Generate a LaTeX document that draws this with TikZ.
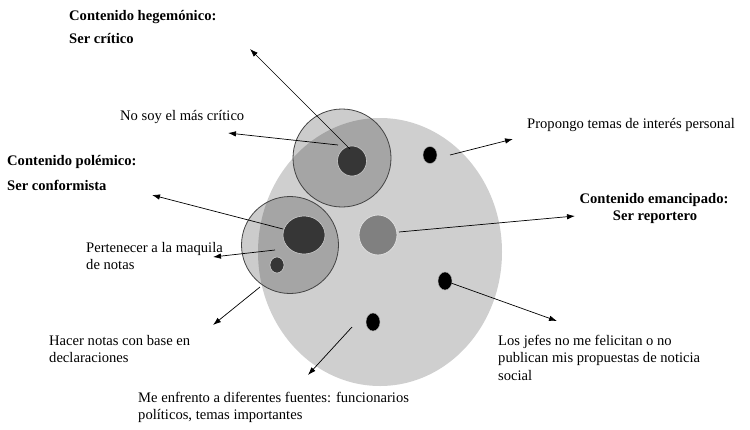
\documentclass[tikz,border=0pt]{standalone}
\usepackage{fontspec}
\setmainfont{Liberation Serif}
\usetikzlibrary{arrows.meta,shapes.geometric}
\definecolor{bigfill}{HTML}{CFCFCF}
\definecolor{darkfill}{HTML}{363636}
\definecolor{midfill}{HTML}{808080}
\definecolor{rimcol}{HTML}{444444}
\begin{document}
\begin{tikzpicture}[x=1pt,y=-1pt,
  lbl/.style={anchor=base west,inner sep=0pt,font=\fontsize{14.6}{17.5}\selectfont},
  blbl/.style={anchor=base west,inner sep=0pt,font=\fontsize{14.6}{17.5}\selectfont\bfseries},
  bclbl/.style={anchor=base,inner sep=0pt,font=\fontsize{14.6}{17.5}\selectfont\bfseries},
  arr/.style={draw=black,line width=0.7pt,-{Latex[length=8pt,width=5.5pt]}},
  zone/.style={circle,inner sep=0pt,draw=rimcol,line width=0.8pt,fill=black,fill opacity=0.2,draw opacity=1},
  darkdot/.style={ellipse,inner sep=0pt,fill=darkfill,draw=gray!40,line width=0.6pt},
  blackdot/.style={ellipse,inner sep=0pt,fill=black,draw=gray!60,line width=0.4pt}]
\useasboundingbox (0,0) rectangle (750,429);
% big field
\node (big) [ellipse,inner sep=0pt,fill=bigfill,minimum width=244pt,minimum height=268pt] at (380,252) {};
% hegemonic zone
\node (heg) [zone,minimum size=98pt] at (342,158) {};
\node (hegdot) [darkdot,minimum width=29pt,minimum height=30pt] at (352,161) {};
% polemic zone
\node (pol) [zone,minimum size=97pt] at (290,245) {};
\node (poldot) [darkdot,minimum width=42pt,minimum height=38pt] at (304,235) {};
\node (polsmall) [darkdot,minimum width=14pt,minimum height=16pt] at (277,265) {};
% emancipated
\node (eman) [ellipse,inner sep=0pt,fill=midfill,draw=gray!25,line width=0.8pt,minimum width=38pt,minimum height=40pt] at (378,235) {};
% black dots
\node (dotA) [blackdot,minimum width=14pt,minimum height=17pt] at (430,155) {};
\node (dotB) [blackdot,minimum width=14pt,minimum height=18pt] at (445,281) {};
\node (dotC) [blackdot,minimum width=14pt,minimum height=18pt] at (373,322) {};

% labels
\node (t1a) [blbl] at (69,20) {Contenido hegemónico:};
\node (t1b) [blbl] at (69,43) {Ser crítico};
\node (t2) [lbl] at (120,120) {No soy el más crítico};
\node (t3a) [blbl] at (7,165) {Contenido polémico:};
\node (t3b) [blbl] at (7,190) {Ser conformista};
\node (t4a) [lbl] at (86,252) {Pertenecer a la maquila};
\node (t4b) [lbl] at (86,269.5) {de notas};
\node (t5a) [lbl] at (49,345) {Hacer notas con base en};
\node (t5b) [lbl] at (49,362.5) {declaraciones};
\node (t6a) [lbl] at (138,402) {Me enfrento a diferentes fuentes: funcionarios};
\node (t6b) [lbl] at (138,419.5) {políticos, temas importantes};
\node (t7) [lbl] at (527,128) {Propongo temas de interés personal};
\node (t8a) [bclbl] at (654,203) {Contenido emancipado:};
\node (t8b) [bclbl] at (655,220.5) {Ser reportero};
\node (t9a) [lbl] at (498,345) {Los jefes no me felicitan o no};
\node (t9b) [lbl] at (498,362.5) {publican mis propuestas de noticia};
\node (t9c) [lbl] at (498,380) {social};

% connector ends
\coordinate (s1) at (350,149); \coordinate (e1) at (250,49);
\coordinate (s2) at (338,145); \coordinate (e2) at (228,133);
\coordinate (s3) at (283,229); \coordinate (e3) at (152,195);
\coordinate (s4) at (275,250); \coordinate (e4) at (213,257);
\coordinate (s5) at (260,287); \coordinate (e5) at (213,325);
\coordinate (s6) at (352,327); \coordinate (e6) at (308,375);
\coordinate (s7) at (450,155); \coordinate (e7) at (513,139);
\coordinate (s8) at (399,232); \coordinate (e8) at (575,216);
\coordinate (s9) at (451,283); \coordinate (e9) at (557,321);
\draw[arr] (s1) -- (e1);
\draw[arr] (s2) -- (e2);
\draw[arr] (s3) -- (e3);
\draw[arr] (s4) -- (e4);
\draw[arr] (s5) -- (e5);
\draw[arr] (s6) -- (e6);
\draw[arr] (s7) -- (e7);
\draw[arr] (s8) -- (e8);
\draw[arr] (s9) -- (e9);
\end{tikzpicture}
\end{document}
